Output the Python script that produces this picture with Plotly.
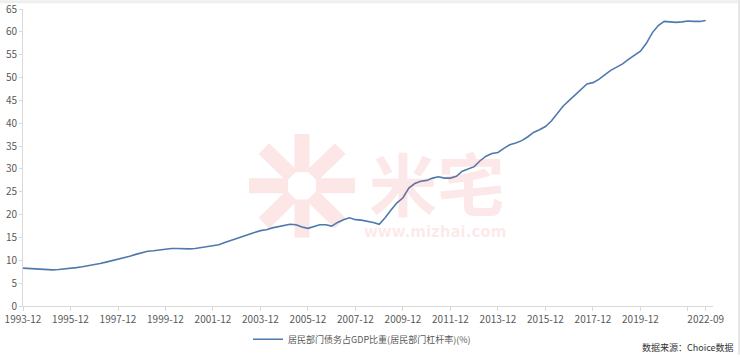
import plotly.graph_objects as go
import pandas as pd

# Quarterly dates 1993-12 .. 2022-09
dates = pd.date_range("1993-12-31", "2022-09-30", freq="QE").strftime("%Y-%m-%d").tolist()

leverage = [
    8.3, 8.2, 8.1, 8.0, 7.9,
    7.9, 8.0, 8.1, 8.3,
    8.4, 8.6, 8.8, 9.0,
    9.3, 9.6, 9.9, 10.2,
    10.6, 10.9, 11.3, 11.7,
    12.0, 12.1, 12.3, 12.5,
    12.6, 12.6, 12.5, 12.5,
    12.6, 12.8, 12.9, 13.2,
    13.4, 13.9, 14.4, 14.8,
    15.2, 15.7, 16.1, 16.5,
    16.7, 17.1, 17.4, 17.7,
    17.9, 17.8, 17.3, 17.0,
    17.4, 17.8, 17.8, 17.5,
    18.3, 18.9, 19.3, 18.9,
    18.8, 18.6, 18.3, 17.9,
    19.3, 21.0, 22.6, 23.7,
    25.8, 26.8, 27.3, 27.5,
    28.0, 28.3, 28.0, 28.0,
    28.4, 29.5, 30.0, 30.5,
    31.8, 32.8, 33.4, 33.6,
    34.5, 35.3, 35.7, 36.2,
    37.0, 38.0, 38.6, 39.3,
    40.5, 42.2, 43.8, 45.0,
    46.2, 47.4, 48.6, 48.9,
    49.6, 50.6, 51.6, 52.3,
    53.0, 54.0, 55.0, 55.8,
    57.5, 59.8, 61.4, 62.3,
    62.2, 62.1, 62.2, 62.4,
    62.3, 62.3, 62.5,
]

series_name = "居民部门债务占GDP比重(居民部门杠杆率)(%)"
source_text = "数据来源：Choice数据"
watermark_cn = "米宅"
watermark_url = "www.mizhai.com"

tick_idx = list(range(0, len(dates), 8)) + [len(dates) - 1]
tickvals = [dates[i] for i in tick_idx]
ticktext = [dates[i][:7] for i in tick_idx]
ticktext[-2] = ""  # 2021-12 tick carries no label; the last label is 2022-09
ytickvals = list(range(0, 66, 5))

FONT = "Microsoft YaHei, Noto Sans CJK SC, sans-serif"
LINE_COLOR = "#4f79ad"
AXIS_COLOR = "#d9d9d9"
TEXT_COLOR = "#595959"
WM_COLOR = "rgba(236,90,90,0.14)"
WM_SOLID = "#fce6e6"

W, H = 740, 363
L, R, T, B = 23, 27, 9, 50
PW, PH = W - L - R, H - T - B


def px(xp):
    return (xp - L) / PW


def py(yp):
    return (H - B - yp) / PH


fig = go.Figure()
fig.add_trace(go.Scatter(
    x=dates, y=leverage, mode="lines", name=series_name,
    line=dict(color=LINE_COLOR, width=1.6),
))

shapes = []
# logo watermark: eight thick spokes around a hollow centre
cx, cy, r0, r1 = 302, 190, 14, 53
for dx, dy in [(1, 0), (0, 1), (0.72, 0.72), (0.72, -0.72),
               (-1, 0), (0, -1), (-0.72, 0.72), (-0.72, -0.72)]:
    shapes.append(dict(type="line", xref="paper", yref="paper", layer="below",
                       x0=px(cx + dx * r0), y0=py(cy + dy * r0),
                       x1=px(cx + dx * r1), y1=py(cy + dy * r1),
                       line=dict(color=WM_SOLID, width=15)))
# light frame at top and right edge of the page
shapes.append(dict(type="rect", xref="paper", yref="paper", layer="below",
                   x0=px(0), x1=px(W), y0=py(0), y1=py(3),
                   fillcolor="#efefef", line=dict(width=0)))
shapes.append(dict(type="rect", xref="paper", yref="paper", layer="below",
                   x0=px(738), x1=px(W), y0=py(0), y1=py(H),
                   fillcolor="#e6e6e6", line=dict(width=0)))

annotations = [
    dict(text="<b>" + watermark_cn + "</b>", x=px(437), y=py(186), xref="paper", yref="paper",
         showarrow=False, xanchor="center", yanchor="middle",
         font=dict(family=FONT, size=68, color=WM_COLOR)),
    dict(text="<b>" + watermark_url + "</b>", x=px(435), y=py(237), xref="paper", yref="paper",
         showarrow=False, xanchor="center", yanchor="middle",
         font=dict(family="DejaVu Sans", size=15, color=WM_COLOR)),
    dict(text=source_text, x=px(736), y=py(355), xref="paper", yref="paper",
         showarrow=False, xanchor="right", yanchor="middle",
         font=dict(family=FONT, size=9, color="#333333")),
]

fig.update_layout(
    width=W, height=H,
    margin=dict(l=L, r=R, t=T, b=B),
    paper_bgcolor="white", plot_bgcolor="rgba(0,0,0,0)",
    font=dict(family=FONT, size=10, color=TEXT_COLOR),
    showlegend=True,
    legend=dict(orientation="h", xref="paper", x=px(362), xanchor="center",
                yref="paper", y=py(347), yanchor="middle",
                font=dict(family=FONT, size=9, color=TEXT_COLOR),
                bgcolor="rgba(0,0,0,0)"),
    shapes=shapes,
    annotations=annotations,
    xaxis=dict(type="date", range=["1993-12-31", "2023-01-20"], automargin=False,
               tickvals=tickvals, ticktext=ticktext, tickangle=0,
               showgrid=False, zeroline=False,
               showline=True, linecolor=AXIS_COLOR, linewidth=1,
               ticks="outside", tickcolor=AXIS_COLOR, ticklen=4,
               tickfont=dict(family=FONT, size=10, color=TEXT_COLOR)),
    yaxis=dict(range=[0, 65.02], tickvals=ytickvals, automargin=False,
               showgrid=False, zeroline=False,
               showline=True, linecolor=AXIS_COLOR, linewidth=1,
               ticks="outside", tickcolor=AXIS_COLOR, ticklen=3,
               tickfont=dict(family=FONT, size=10, color=TEXT_COLOR)),
)

fig.write_html("out.html")
